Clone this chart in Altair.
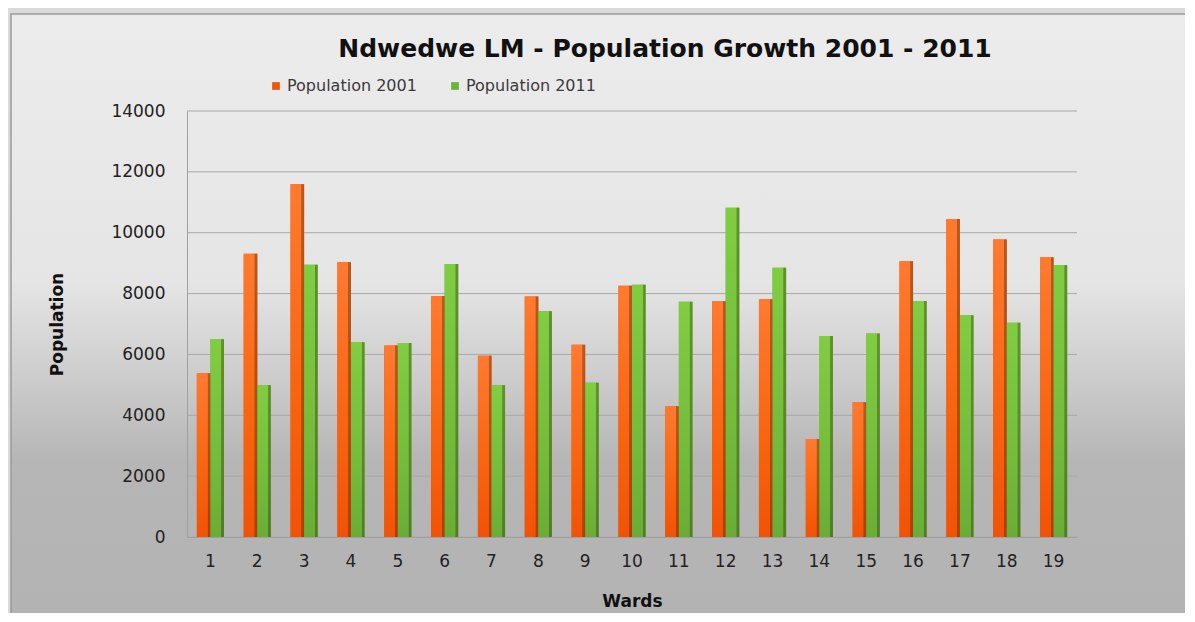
import altair as alt
import pandas as pd

wards = [str(i) for i in range(1, 20)]
pop_2001 = [5380, 9310, 11590, 9030, 6290, 7920, 5960, 7900, 6320, 8260,
            4300, 7745, 7810, 3220, 4430, 9060, 10450, 9780, 9190]
pop_2011 = [6500, 4990, 8950, 6400, 6375, 8970, 4990, 7420, 5070, 8290,
            7730, 10820, 8850, 6605, 6690, 7755, 7285, 7045, 8930]
series = ["Population 2001", "Population 2011"]
y_ticks = [0, 2000, 4000, 6000, 8000, 10000, 12000, 14000]

rows = []
for w, a, b in zip(wards, pop_2001, pop_2011):
    rows.append({"Ward": w, "Series": series[0], "Population": a})
    rows.append({"Ward": w, "Series": series[1], "Population": b})
df = pd.DataFrame(rows)
grid_df = pd.DataFrame({"Population": y_ticks})

FONT = "DejaVu Sans"
W, H = 890, 426
axis_style = dict(labelFont=FONT, labelFontSize=17, labelColor="#222222",
                  titleFont=FONT, titleFontSize=17, titleFontWeight="bold",
                  titleColor="#111111", ticks=False, zindex=2,
                  domainColor="#a0a0a0", grid=False)

yscale = alt.Scale(domain=[0, 14000], nice=False)
xenc = alt.X("Ward:N", sort=wards,
             scale=alt.Scale(paddingInner=0.42, paddingOuter=0.21),
             axis=alt.Axis(title="Wards", labelAngle=0, labelPadding=16,
                           titlePadding=24, **axis_style))
yenc = alt.Y("Population:Q", scale=yscale,
             axis=alt.Axis(title="Population", values=y_ticks, format="d",
                           labelPadding=22, titlePadding=44, **axis_style))
xoff = alt.XOffset("Series:N", sort=series)

bg_data = alt.Data(values=[{"k": 1}])
outer = alt.Chart(bg_data).mark_rect(color="#dadada").encode(
    x=alt.value(-179), x2=alt.value(1020), y=alt.value(-103), y2=alt.value(530))
inner = alt.Chart(bg_data).mark_rect(
    fill=alt.LinearGradient(gradient="linear", x1=0, x2=0, y1=0, y2=1, stops=[
        alt.GradientStop(color="#ececec", offset=0),
        alt.GradientStop(color="#e5e5e5", offset=0.42),
        alt.GradientStop(color="#cbcbcb", offset=0.58),
        alt.GradientStop(color="#b6b6b6", offset=0.7),
        alt.GradientStop(color="#b2b2b2", offset=1)]),
    stroke="#9a9a9a", strokeWidth=1.5).encode(
    x=alt.value(-176), x2=alt.value(1040), y=alt.value(-97), y2=alt.value(540))

grid = alt.Chart(grid_df).mark_rule(color="#a8a8a8", strokeWidth=1).encode(
    y=yenc)

base = alt.Chart(df)
legend_bars = base.mark_bar().encode(
    x=xenc, y=yenc, xOffset=xoff,
    color=alt.Color("Series:N", sort=series,
                    scale=alt.Scale(domain=series, range=["#f05510", "#6ab538"]),
                    legend=alt.Legend(title=None, orient="none", direction="horizontal",
                                      legendX=81, legendY=-33, symbolType="square",
                                      symbolSize=60, symbolStrokeWidth=0,
                                      labelFontSize=16, labelColor="#3a3a3a",
                                      labelFont=FONT, columnPadding=30,
                                      labelOffset=3, padding=0)))

orange = base.transform_filter(alt.datum.Series == series[0]).mark_bar(
    fill=alt.LinearGradient(gradient="linear", x1=0, x2=0, y1=0, y2=1, stops=[
        alt.GradientStop(color="#ff7a30", offset=0),
        alt.GradientStop(color="#f8640f", offset=0.6),
        alt.GradientStop(color="#f25206", offset=1)])).encode(
    x=xenc, y=yenc, xOffset=xoff)
green = base.transform_filter(alt.datum.Series == series[1]).mark_bar(
    fill=alt.LinearGradient(gradient="linear", x1=0, x2=0, y1=0, y2=1, stops=[
        alt.GradientStop(color="#80cd42", offset=0),
        alt.GradientStop(color="#74bd3c", offset=0.6),
        alt.GradientStop(color="#69ad36", offset=1)])).encode(
    x=xenc, y=yenc, xOffset=xoff)
edge = base.mark_bar(
    fill=alt.LinearGradient(gradient="linear", x1=0, x2=1, y1=0, y2=0, stops=[
        alt.GradientStop(color="rgba(0,0,0,0)", offset=0),
        alt.GradientStop(color="rgba(0,0,0,0)", offset=0.78),
        alt.GradientStop(color="rgba(40,30,0,0.35)", offset=0.82),
        alt.GradientStop(color="rgba(40,30,0,0.35)", offset=1)])).encode(
    x=xenc, y=yenc, xOffset=xoff)

chart = alt.layer(outer, inner, grid, legend_bars, orange, green, edge).properties(
    width=W, height=H,
    padding={"left": 179, "top": 103, "right": 108, "bottom": 76},
    autosize=alt.AutoSizeParams(type="none"),
    background="#ffffff",
    title=alt.TitleParams("Ndwedwe LM - Population Growth 2001 - 2011",
                          font=FONT, fontSize=25, fontWeight="bold", color="#111111",
                          anchor="middle", dx=33, dy=54, offset=0),
).configure_view(stroke=None, fill=None)

chart.save("out.html", embed_options={"renderer": "svg", "actions": False})
